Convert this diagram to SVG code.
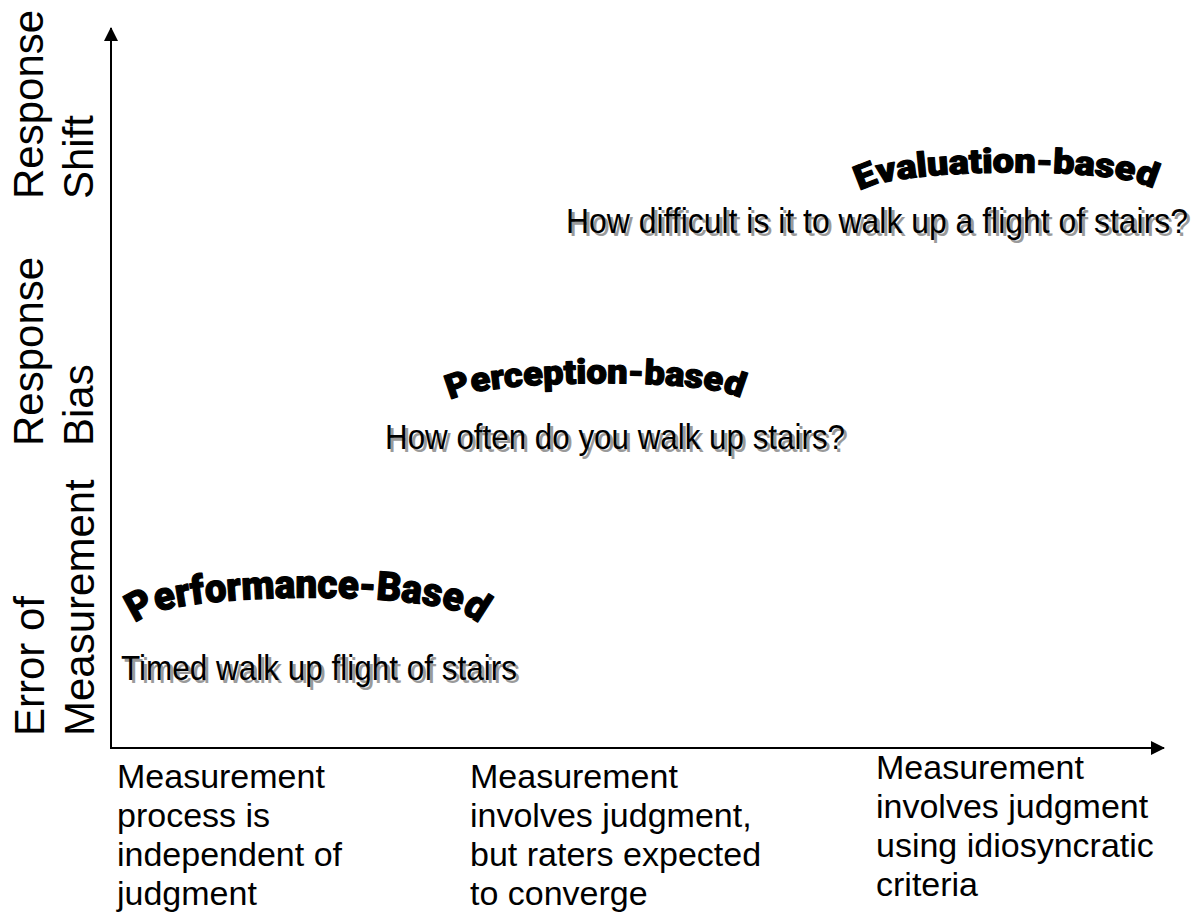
<svg xmlns="http://www.w3.org/2000/svg" width="1197" height="917" viewBox="0 0 1197 917">
<style>
.ax{stroke:#000;stroke-width:2;fill:none}
.lab{font-family:"Liberation Sans",Arial,sans-serif;font-size:42px;fill:#000}
.bot{font-family:"Liberation Sans",Arial,sans-serif;font-size:34px;fill:#000}
.q{font-family:"Liberation Sans Narrow","Liberation Sans",Arial,sans-serif;font-size:35px}
.sh{fill:#9a9a9a}
.fg{fill:#000}
.wa{font-family:Roboto,"DejaVu Sans",sans-serif;font-weight:900;fill:#000;stroke:#000;stroke-width:1.2;stroke-linejoin:round}
</style>
<defs>
<marker id="ah" markerWidth="14" markerHeight="14" refX="13" refY="7" orient="auto" markerUnits="userSpaceOnUse">
<path d="M0,0 L14,7 L0,14 Z" fill="#000"/>
</marker>
<path id="arcPerf" d="M138,624 C148,590 466,588 476,624"/>
<path id="arcPerc" d="M450,402 C468,378 723,377 741,400"/>
<path id="arcEval" d="M859,193 C877,167 1136,165 1154,191"/>
</defs>
<rect width="1197" height="917" fill="#fff"/>
<g id="connectors">
<path class="ax" d="M111,748 L111,28" marker-end="url(#ah)"/>
<path class="ax" d="M110,748 L1164,748" marker-end="url(#ah)"/>
</g>
<g id="y-labels">
<g id="ylab-shift" transform="translate(0,199) rotate(-90)">
<text class="lab" x="0" y="43">Response</text>
<text class="lab" x="0" y="93">Shift</text>
</g>
<g id="ylab-bias" transform="translate(0,446) rotate(-90)">
<text class="lab" x="0" y="43">Response</text>
<text class="lab" x="0" y="93">Bias</text>
</g>
<g id="ylab-error" transform="translate(0,736) rotate(-90)">
<text class="lab" x="0" y="44">Error of</text>
<text class="lab" x="0" y="94">Measurement</text>
</g>
</g>
<g id="x-labels">
<g id="xlab-1">
<text class="bot" x="117" y="788">Measurement</text>
<text class="bot" x="117" y="827">process is</text>
<text class="bot" x="117" y="866">independent of</text>
<text class="bot" x="117" y="905">judgment</text>
</g>
<g id="xlab-2">
<text class="bot" x="470" y="788">Measurement</text>
<text class="bot" x="470" y="827">involves judgment,</text>
<text class="bot" x="470" y="866">but raters expected</text>
<text class="bot" x="470" y="905">to converge</text>
</g>
<g id="xlab-3">
<text class="bot" x="876" y="779">Measurement</text>
<text class="bot" x="876" y="818">involves judgment</text>
<text class="bot" x="876" y="857">using idiosyncratic</text>
<text class="bot" x="876" y="896">criteria</text>
</g>
</g>
<g id="node-performance">
<text class="wa" font-size="40"><textPath href="#arcPerf" startOffset="50%" text-anchor="middle" textLength="352" lengthAdjust="spacingAndGlyphs" dx="0 -4" rotate="-10 -8 -6 -4 -3 -2 -1 0 0 0 1 2 3 4 6 8 10">Performance-Based</textPath></text>
<text class="q sh" x="124" y="683" textLength="396" lengthAdjust="spacingAndGlyphs">Timed walk up flight of stairs</text>
<text class="q fg" x="121" y="680" textLength="396" lengthAdjust="spacingAndGlyphs">Timed walk up flight of stairs</text>
</g>
<g id="node-perception">
<text class="wa" font-size="34"><textPath href="#arcPerc" startOffset="50%" text-anchor="middle" textLength="294" lengthAdjust="spacingAndGlyphs" dx="0 -3" rotate="-7 -5 -4 -3 -2 -1 0 0 0 0 1 2 3 4 6 8">Perception-based</textPath></text>
<text class="q sh" x="388" y="452" textLength="460" lengthAdjust="spacingAndGlyphs">How often do you walk up stairs?</text>
<text class="q fg" x="385" y="449" textLength="460" lengthAdjust="spacingAndGlyphs">How often do you walk up stairs?</text>
</g>
<g id="node-evaluation">
<text class="wa" font-size="34"><textPath href="#arcEval" startOffset="50%" text-anchor="middle" textLength="298" lengthAdjust="spacingAndGlyphs" rotate="-7 -5 -4 -3 -2 -1 0 0 0 0 1 2 3 4 6 8">Evaluation-based</textPath></text>
<text class="q sh" x="569" y="236" textLength="622" lengthAdjust="spacingAndGlyphs">How difficult is it to walk up a flight of stairs?</text>
<text class="q fg" x="566" y="233" textLength="622" lengthAdjust="spacingAndGlyphs">How difficult is it to walk up a flight of stairs?</text>
</g>
</svg>
